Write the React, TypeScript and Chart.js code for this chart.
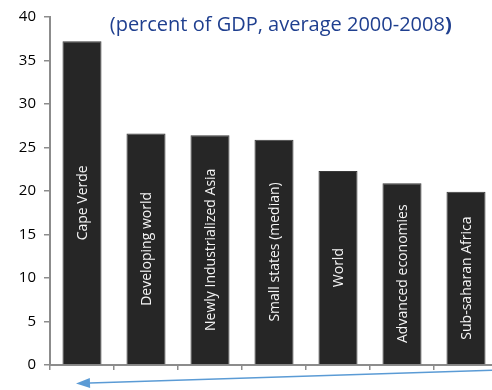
import React, { useEffect, useRef } from "react";
import { Chart, registerables } from "chart.js";

Chart.register(...registerables);

const categories = [
  "Cape Verde",
  "Developing world",
  "Newly Industrialized Asia",
  "Small states (median)",
  "World",
  "Advanced economies",
  "Sub-saharan Africa",
];
const values = [37.2, 26.6, 26.4, 25.9, 22.3, 20.9, 19.9];
const yTicks = [0, 5, 10, 15, 20, 25, 30, 35, 40];
const titleMain = "(percent of GDP, average 2000-2008";
const titleEnd = ")";

const FONT = "'Open Sans', sans-serif";

const barLabelPlugin = {
  id: "barLabels",
  afterDatasetsDraw(chart: any) {
    const ctx = chart.ctx;
    const meta = chart.getDatasetMeta(0);
    ctx.save();
    ctx.fillStyle = "#f4f4f4";
    ctx.font = `14px ${FONT}`;
    ctx.textAlign = "center";
    ctx.textBaseline = "middle";
    meta.data.forEach((bar: any, i: number) => {
      const cx = bar.x;
      const cy = (bar.y + bar.base) / 2;
      ctx.save();
      ctx.translate(cx, cy);
      ctx.rotate(-Math.PI / 2);
      ctx.fillText(categories[i], 0, 1);
      ctx.restore();
    });
    ctx.restore();
  },
};

const titlePlugin = {
  id: "titleAndArrow",
  afterDraw(chart: any) {
    const ctx = chart.ctx;
    const area = chart.chartArea;
    ctx.save();
    // title
    ctx.fillStyle = "#1f3f8f";
    ctx.textBaseline = "alphabetic";
    ctx.textAlign = "left";
    ctx.font = `20px ${FONT}`;
    const w1 = ctx.measureText(titleMain).width;
    ctx.font = `bold 20px ${FONT}`;
    const w2 = ctx.measureText(titleEnd).width;
    const cx = area.left + (area.right - area.left) * 0.515;
    const x0 = cx - (w1 + w2) / 2;
    const y = area.top + 14;
    ctx.font = `20px ${FONT}`;
    ctx.fillText(titleMain, x0, y);
    ctx.font = `bold 20px ${FONT}`;
    ctx.fillText(titleEnd, x0 + w1, y);

    // arrow
    const xs = chart.scales.x;
    const startX = chart.width;
    const startY = area.bottom + 5;
    const tipX = xs.getPixelForValue(0) - 6;
    const tipY = area.bottom + 18.5;
    const ang = Math.atan2(tipY - startY, tipX - startX);
    const headLen = 14;
    const headHalf = 5;
    const bx = tipX - headLen * Math.cos(ang);
    const by = tipY - headLen * Math.sin(ang);
    ctx.strokeStyle = "#5b9bd5";
    ctx.lineWidth = 1.5;
    ctx.beginPath();
    ctx.moveTo(startX, startY);
    ctx.lineTo(bx, by);
    ctx.stroke();
    ctx.fillStyle = "#5b9bd5";
    ctx.beginPath();
    ctx.moveTo(tipX, tipY);
    ctx.lineTo(bx + headHalf * Math.sin(ang), by - headHalf * Math.cos(ang));
    ctx.lineTo(bx - headHalf * Math.sin(ang), by + headHalf * Math.cos(ang));
    ctx.closePath();
    ctx.fill();
    ctx.restore();
  },
};

export default function App() {
  const ref = useRef<HTMLCanvasElement>(null);
  useEffect(() => {
    if (!ref.current) return;
    const chart = new Chart(ref.current, {
      type: "bar",
      data: {
        labels: categories,
        datasets: [
          {
            data: values,
            backgroundColor: "#262626",
            borderColor: "#3a3a3a",
            borderWidth: 1,
            barPercentage: 0.61,
            categoryPercentage: 1,
          },
        ],
      },
      options: {
        animation: false,
        responsive: false,
        maintainAspectRatio: false,
        layout: { padding: { top: 12, right: 2, bottom: 20, left: 0 } },
        plugins: {
          legend: { display: false },
          tooltip: { enabled: false },
          title: { display: false },
        },
        scales: {
          x: {
            grid: {
              display: true,
              drawOnChartArea: false,
              drawTicks: true,
              tickLength: 5,
              color: "#8c8c8c",
              lineWidth: 1.5,
              offset: true,
            },
            border: { display: true, color: "#8c8c8c", width: 2 },
            ticks: { display: false },
          },
          y: {
            min: 0,
            max: 40,
            afterBuildTicks: (axis: any) => {
              axis.ticks = yTicks.map((v) => ({ value: v }));
            },
            afterFit: (axis: any) => {
              axis.width = 50;
            },
            grid: {
              display: true,
              drawOnChartArea: false,
              drawTicks: true,
              tickLength: 6,
              color: "#8c8c8c",
              lineWidth: 1.5,
            },
            border: { display: true, color: "#8c8c8c", width: 2 },
            ticks: {
              padding: 8,
              color: "#000000",
              font: { family: FONT, size: 15 },
            },
          },
        },
      },
      plugins: [barLabelPlugin, titlePlugin],
    });
    return () => chart.destroy();
  }, []);
  return (
    <div
      style={{
        position: "fixed",
        left: 0,
        top: 0,
        width: 492,
        height: 390,
        overflow: "hidden",
        background: "#ffffff",
      }}
    >
      <canvas ref={ref} width={500} height={390} style={{ display: "block" }} />
    </div>
  );
}
